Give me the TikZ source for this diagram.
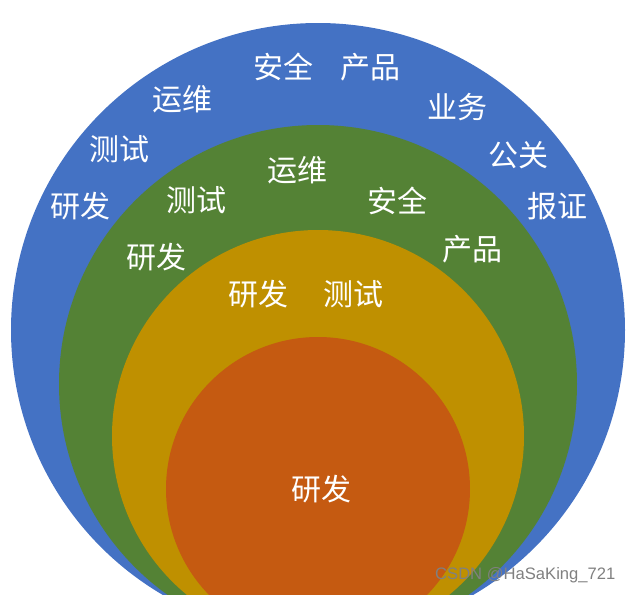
\documentclass[tikz,border=0pt]{standalone}
\usepackage{fontspec}
\setmainfont{Noto Sans CJK SC}
\newfontfamily\markfont{Liberation Sans}
\definecolor{ringblue}{RGB}{68,114,196}
\definecolor{ringgreen}{RGB}{84,130,53}
\definecolor{ringgold}{RGB}{191,144,0}
\definecolor{ringorange}{RGB}{197,90,17}
\tikzset{ringlabel/.style={text=white, inner sep=0pt, font=\fontsize{30}{36}\selectfont}}

\begin{document}
\begin{tikzpicture}[x=1pt, y=-1pt]
		%%%%% START %%%%%
		
		\useasboundingbox (0, 0) rectangle (633, 595);
		\clip (0, 0) rectangle (633, 595);
		
		\fill[ringblue] (318, 330) circle (307pt);
		\fill[ringgreen] (318, 384) circle (259pt);
		\fill[ringgold] (318, 436) circle (206pt);
		\fill[ringorange] (318, 489) circle (152pt);
		
		\node[ringlabel] (blueAnquan) at (283, 67) {安全};
		\node[ringlabel] (blueChanpin) at (370, 67) {产品};
		\node[ringlabel] (blueYunwei) at (182, 99) {运维};
		\node[ringlabel] (blueYewu) at (457, 107) {业务};
		\node[ringlabel] (blueCeshi) at (119, 149) {测试};
		\node[ringlabel] (blueGongguan) at (518, 155) {公关};
		\node[ringlabel] (blueYanfa) at (80, 206) {研发};
		\node[ringlabel] (blueBaozheng) at (557, 206) {报证};
		
		\node[ringlabel] (greenYunwei) at (297, 170) {运维};
		\node[ringlabel] (greenCeshi) at (196, 200) {测试};
		\node[ringlabel] (greenAnquan) at (397, 201) {安全};
		\node[ringlabel] (greenYanfa) at (156, 257) {研发};
		\node[ringlabel] (greenChanpin) at (472, 249) {产品};
		
		\node[ringlabel] (goldYanfa) at (258, 294) {研发};
		\node[ringlabel] (goldCeshi) at (353, 294) {测试};
		
		\node[ringlabel] (orangeYanfa) at (321, 489) {研发};
		
		\node[text=black!50, inner sep=0pt, anchor=west, font=\markfont\fontsize{16.6}{19}\selectfont] (watermark) at (435, 575) {CSDN @HaSaKing\_721};
		
		%%%%% END %%%%%
\end{tikzpicture}
\end{document}
